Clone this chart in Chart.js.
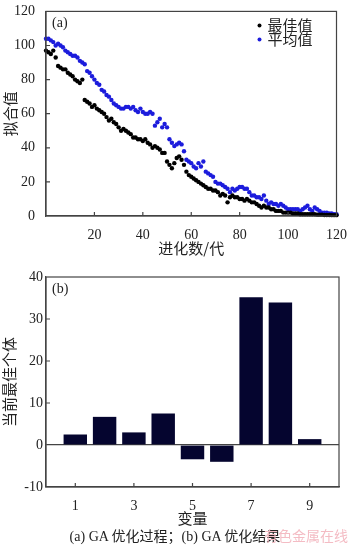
<!DOCTYPE html>
<html>
<head>
<meta charset="utf-8">
<script src="https://cdn.jsdelivr.net/npm/chart.js@4.4.0/dist/chart.umd.min.js"></script>
<style>
  html, body { margin: 0; padding: 0; background: #fff; }
  #wrap { position: relative; width: 350px; height: 546px; overflow: hidden; }
  canvas { position: absolute; left: 0; }
  #fitChart { top: 0; }
  #varChart { top: 260px; }
  .caption { position: absolute; top: 525px; left: 0; width: 350px; text-align: center;
             font: 14px "Liberation Serif", "Noto Sans CJK SC"; color: #222; }
  .mark { position: absolute; top: 525px; left: 264px; font: 14px "Noto Sans CJK SC"; color: #f4bcc4; }
</style>
</head>
<body>
<div id="wrap">
  <canvas id="fitChart" width="350" height="260"></canvas>
  <canvas id="varChart" width="350" height="286"></canvas>
  <div class="caption">(a) GA 优化过程；(b) GA 优化结果</div>
  <div class="mark">有色金属在线</div>
</div>
<script>
'use strict';

// GA run: best and mean fitness per generation (generation = array index)
const bestValues = [
  97, 96, 95, 97, 93, 88, 87, 86, 86, 84,
  83, 82, 80, 79, 78, 80, 68, 67, 66, 64,
  65, 63, 62, 61, 60, 58, 56, 57, 55, 54,
  52, 50, 51, 50, 49, 48, 46, 46, 45, 45,
  44, 45, 43, 42, 40, 41, 40, 39, 37, 37,
  32, 30, 28, 31, 34, 35, 33, 30, 26, 24,
  23, 22, 21, 20, 19, 18, 17, 16, 16, 15,
  15, 14, 12, 13, 12, 8, 11, 12, 11, 11,
  10, 10, 9, 10, 9, 8, 8, 7, 6, 5,
  6, 5, 5, 4, 4, 3, 3, 3, 2, 2,
  2, 2, 1.5, 1.5, 1.5, 1, 1, 1, 1, 1,
  1, 1, 0.8, 0.8, 0.8, 0.6, 0.6, 0.6, 0.5, 0.5,
  0.5
];
const meanValues = [
  104, 104, 103, 102, 100, 101, 100, 99, 97, 96,
  95, 94, 94, 93, 91, 90, 89, 85, 84, 82,
  80, 78, 77, 74, 73, 71, 70, 68, 66, 65,
  64, 63, 63, 64, 64, 63, 64, 62, 61, 63,
  61, 60, 60, 61, 60, 53, 55, 57, 52, 54,
  52, 45, 43, 41, 42, 43, 42, 38, 33, 32,
  31, 29, 28, 31, 29, 32, 26, 25, 24, 23,
  20, 19, 19, 18, 17, 16, 14, 16, 15, 16,
  17, 17, 16, 16, 14, 12, 12, 11, 11, 10,
  12, 9, 7, 8, 7, 7, 6, 7, 6, 5,
  4, 4, 4, 4, 4, 3, 4, 5, 6, 4,
  3, 5, 4, 3, 2, 2, 2, 1.5, 1.5, 1,
  1
];
const fitSeriesNames = ['最佳值', '平均值'];
const fitXTicks = [0, 20, 40, 60, 80, 100, 120];
const fitYTicks = [0, 20, 40, 60, 80, 100, 120];

// best individual found by the GA
const varIndex = [1, 2, 3, 4, 5, 6, 7, 8, 9];
const varValues = [2.5, 6.7, 3.0, 7.5, -3.4, -4.0, 35.2, 33.9, 1.4];
const varXTicks = [1, 3, 5, 7, 9];
const varYTicks = [-10, 0, 10, 20, 30, 40];

const SERIF = '"Liberation Serif", "Noto Sans CJK SC"';
const INK = '#222';

// box frame, inward ticks, panel tag and (optionally) a small legend
const framePlugin = {
  id: 'frame',
  afterDraw(chart, args, opts) {
    const { ctx, chartArea: a, scales } = chart;
    ctx.save();
    ctx.strokeStyle = '#444';
    ctx.lineWidth = 1.2;
    ctx.strokeRect(a.left, a.top, a.right - a.left, a.bottom - a.top);

    ctx.beginPath();
    opts.xTicks.forEach(function (v) {
      const px = scales.x.getPixelForValue(v);
      ctx.moveTo(px, a.bottom);
      ctx.lineTo(px, a.bottom - 4);
    });
    opts.yTicks.forEach(function (v) {
      const py = scales.y.getPixelForValue(v);
      ctx.moveTo(a.left, py);
      ctx.lineTo(a.left + 4, py);
    });
    ctx.stroke();

    ctx.fillStyle = INK;
    ctx.font = '14px ' + SERIF;
    ctx.textBaseline = 'top';
    ctx.fillText(opts.tag, a.left + 6, a.top + 5);

    if (opts.legend) {
      ctx.font = '15px "Noto Sans CJK SC"';
      ctx.textBaseline = 'middle';
      chart.data.datasets.forEach(function (ds, i) {
        const y = a.top + 14 + i * 14;
        ctx.fillStyle = ds.backgroundColor;
        ctx.beginPath();
        ctx.arc(a.right - 77, y, 2, 0, Math.PI * 2);
        ctx.fill();
        ctx.fillStyle = INK;
        ctx.fillText(ds.label, a.right - 69, y);
      });
    }
    ctx.restore();
  }
};

function tickFont() { return { family: SERIF, size: 14 }; }

// (a) fitness vs generation
new Chart(document.getElementById('fitChart'), {
  type: 'scatter',
  data: {
    datasets: [
      { label: fitSeriesNames[0], data: bestValues.map(function (v, i) { return { x: i, y: v }; }),
        backgroundColor: '#000', pointRadius: 2.2, pointBorderWidth: 0, clip: false },
      { label: fitSeriesNames[1], data: meanValues.map(function (v, i) { return { x: i, y: v }; }),
        backgroundColor: '#1c1cdc', pointRadius: 2.2, pointBorderWidth: 0, clip: false }
    ]
  },
  options: {
    responsive: false,
    animation: false,
    layout: { padding: { top: 6, right: 11, left: 0, bottom: 0 } },
    plugins: {
      legend: { display: false },
      tooltip: { enabled: false },
      frame: { tag: '(a)', legend: true, xTicks: fitXTicks.slice(1, -1), yTicks: fitYTicks.slice(1, -1) }
    },
    scales: {
      x: {
        type: 'linear', min: 0, max: 120,
        afterBuildTicks: function (s) { s.ticks = fitXTicks.map(function (v) { return { value: v }; }); },
        afterFit: function (s) { s.height = 44; },
        grid: { display: false },
        border: { color: '#444', width: 1.2 },
        ticks: { color: INK, font: tickFont(), padding: 3, maxRotation: 0,
                 callback: function (v) { return v === 0 ? '' : v; } },
        title: { display: true, text: '进化数/代', color: INK,
                 font: { family: '"Noto Sans CJK SC"', size: 15 }, padding: { top: 0, bottom: 3 } }
      },
      y: {
        min: 0, max: 120,
        afterBuildTicks: function (s) { s.ticks = fitYTicks.map(function (v) { return { value: v }; }); },
        afterFit: function (s) { s.width = 46; },
        grid: { display: false },
        border: { color: '#444', width: 1.2 },
        ticks: { color: INK, font: tickFont(), padding: 3 },
        title: { display: true, text: '拟合值', color: INK,
                 font: { family: '"Noto Sans CJK SC"', size: 15 }, padding: { top: 1, bottom: 0 } }
      }
    }
  },
  plugins: [framePlugin]
});

// (b) optimised variables
new Chart(document.getElementById('varChart'), {
  type: 'bar',
  data: {
    datasets: [{
      label: '当前最佳个体',
      data: varIndex.map(function (x, i) { return { x: x, y: varValues[i] }; }),
      backgroundColor: '#05052f',
      barPercentage: 0.8,
      categoryPercentage: 1.0
    }]
  },
  options: {
    responsive: false,
    animation: false,
    layout: { padding: { top: 17, right: 11, left: 0, bottom: 0 } },
    plugins: {
      legend: { display: false },
      tooltip: { enabled: false },
      frame: { tag: '(b)', legend: false, xTicks: varXTicks, yTicks: [10, 20, 30] }
    },
    scales: {
      x: {
        type: 'linear', min: 0, max: 10, offset: false,
        afterBuildTicks: function (s) { s.ticks = varXTicks.map(function (v) { return { value: v }; }); },
        afterFit: function (s) { s.height = 59; },
        grid: { display: false },
        border: { color: '#444', width: 1.2 },
        ticks: { color: INK, font: tickFont(), padding: 3, maxRotation: 0 },
        title: { display: true, text: '变量', color: INK,
                 font: { family: '"Noto Sans CJK SC"', size: 15 }, padding: { top: 0, bottom: 19 } }
      },
      y: {
        min: -10, max: 40,
        afterBuildTicks: function (s) { s.ticks = varYTicks.map(function (v) { return { value: v }; }); },
        afterFit: function (s) { s.width = 46; },
        grid: {
          drawTicks: false,
          color: function (c) { return c.tick && c.tick.value === 0 ? '#444' : 'rgba(0,0,0,0)'; },
          lineWidth: 1.2
        },
        border: { color: '#444', width: 1.2 },
        ticks: { color: INK, font: tickFont(), padding: 3 },
        title: { display: true, text: '当前最佳个体', color: INK,
                 font: { family: '"Noto Sans CJK SC"', size: 15 }, padding: { top: 0, bottom: 0 } }
      }
    }
  },
  plugins: [framePlugin]
});
</script>
</body>
</html>
